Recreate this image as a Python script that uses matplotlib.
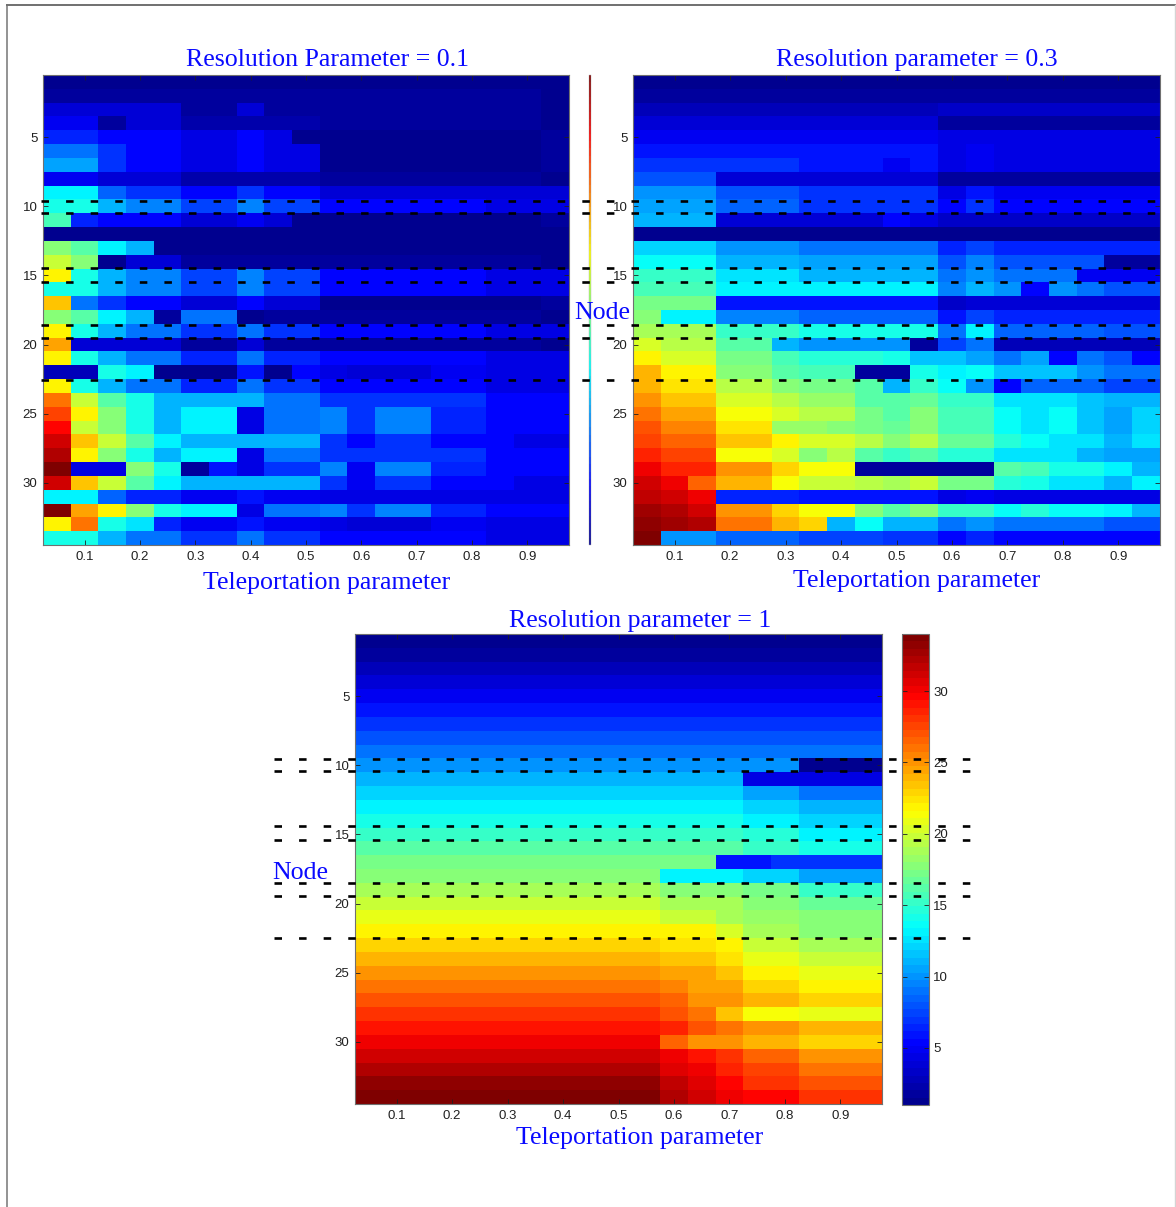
import numpy as np
import matplotlib
matplotlib.use("Agg")
import matplotlib.pyplot as plt
from matplotlib.colors import LinearSegmentedColormap
from matplotlib.lines import Line2D

W, H = 1176, 1207
plt.rcParams['lines.scale_dashes'] = False
plt.rcParams['font.family'] = 'Liberation Sans'

x_ticks = [0.1, 0.2, 0.3, 0.4, 0.5, 0.6, 0.7, 0.8, 0.9]
y_ticks = [5, 10, 15, 20, 25, 30]
cbar_ticks = [5, 10, 15, 20, 25, 30]
titles = ["Resolution Parameter = 0.1", "Resolution parameter = 0.3", "Resolution parameter = 1"]
xlabel = "Teleportation parameter"
ylabel = "Node"

res_01 = [
 [1,1,1,1,1,1,1,1,1,1,1,1,1,1,1,1,1,1,1],
 [2,2,2,2,2,2,2,2,2,2,2,2,2,2,2,2,2,2,1],
 [4,4,4,4,4,2,2,4,2,2,2,2,2,2,2,2,2,2,1],
 [5,5,2,4,4,2.5,2.5,2.5,2.5,2.5,2,2,2,2,2,2,2,2,1],
 [6.5,6.5,5.5,5.5,5.5,4.5,4.5,5.5,4.5,1.5,1,1,1,1,1,1,1,1,2],
 [9,9,7,5.5,5.5,4.5,4.5,5.5,4.5,4.5,1,1,1,1,1,1,1,1,2],
 [10.5,10.5,7,5.5,5.5,4.5,4.5,5.5,4.5,4.5,1,1,1,1,1,1,1,1,2],
 [5,5,4,4,4,2.5,2.5,2.5,2.5,2.5,2,2,2,2,2,2,2,2,1],
 [13,13,8.5,7,7,5.5,5.5,7,5.5,5.5,4,4,4,4,4,4,4,4,4],
 [14,14,11,9.5,9.5,7.5,7.5,9.5,7.5,7.5,5.5,5.5,5.5,5.5,5.5,5.5,4.5,4.5,4.5],
 [15.5,6.5,5.5,5.5,5.5,4,4,5,4,1.5,1.5,1.5,1.5,1.5,1.5,1.5,1.5,1.5,2],
 [1,1,1,1,1,1,1,1,1,1,1,1,1,1,1,1,1,1,1],
 [18,16,13,11,1,1,1,1,1,1,1,1,1,1,1,1,1,1,1],
 [20,18,1.5,4,4,2,2,2,2,2,2,2,2,2,2,2,2,2,1],
 [22,14,11,9.5,9.5,7.5,7.5,9.5,7.5,7.5,5.5,5.5,5.5,5.5,5.5,5.5,4.5,4.5,4.5],
 [14,14,11,9.5,9.5,7.5,7.5,9.5,7.5,7.5,5.5,5.5,5.5,5.5,5.5,5.5,4.5,4.5,4.5],
 [23.5,9,7,5.5,5.5,4,4,5.5,4,4,1.5,1.5,1.5,1.5,1.5,1.5,1.5,1.5,2],
 [18,16,13,11,2,9,9,1,2,2,2,2,2,2,2,2,2,2,1],
 [22,14,11,9,9,7,7,9,7,7,5.5,5.5,5.5,5.5,5.5,5.5,4.5,4.5,4.5],
 [24.5,4,4,4,4,2,2,4,2,2,2,2,2,2,2,2,2,2,1],
 [22,14,11,9,9,6.5,6.5,9,6.5,6.5,5.5,5.5,5.5,5.5,5.5,5.5,4.5,4.5,4.5],
 [3,3,14,13,1,1,1,6,1,5.5,4.5,4,4,4,5,5,4.5,4.5,4.5],
 [22,14,11,9,9,6.5,6.5,9,7,7,5.5,5.5,5.5,5.5,5.5,5.5,4.5,4.5,4.5],
 [26,20,16,14,11,11,11,11,9,9,7,7,7,7,7,7,5.5,5.5,5.5],
 [27.5,22,18,14,11,13,13,4.5,9,9,9.5,7,9.5,9.5,6.5,6.5,5.5,5.5,5.5],
 [29.5,20,18,14,11,13,13,4.5,9,9,9.5,7,9.5,9.5,6.5,6.5,5.5,5.5,5.5],
 [31,23.5,20,16,13,11,11,11,11,11,7,5.5,7,7,5.5,5.5,5.5,4.5,4.5],
 [32,22,18,14,11,13,13,4.5,9,9,7,7,7,7,7,7,5.5,5.5,5.5],
 [34,4.5,4.5,18,14,2,6,4.5,7,7,9.5,5,9.5,9.5,6.5,6.5,5.5,5.5,5.5],
 [31,23.5,20,16,13,11,11,11,11,11,7,5,7,7,5.5,5.5,5.5,4.5,4.5],
 [13,13,8.5,6.5,6.5,5,5,6,5,5,4.5,4.5,4.5,4.5,4.5,4.5,4.5,4.5,4.5],
 [34,24.5,22,18,14,13,13,4.5,9,9,9.5,7,9.5,9.5,6.5,6.5,5.5,5.5,5.5],
 [22,26,14,12.5,6.5,5,5,6,5,5,4.5,4,4,4,5,5,4.5,4.5,4.5],
 [14,14,11,9,9,7,7,9,7,7,5.5,5.5,5.5,5.5,5.5,5.5,4.5,4.5,4.5],
]

res_03 = [
 [1,1,1,1,1,1,1,1,1,1,1,1,1,1,1,1,1,1,1],
 [2,2,2,2,2,2,2,2,2,2,2,2,2,2,2,2,2,2,2],
 [3,3,3,3,3,3,3,3,3,3,3,3.5,3.5,3.5,3.5,3.5,3.5,3.5,3.5],
 [4,4,4,4,4,4,4,4,4,4,4,2,2,2,2,2,2,2,2],
 [5,5,5,5,5,5,5,5,5,5,5,4.5,4.5,4.5,4.5,4.5,4.5,4.5,4.5],
 [5.8,5.8,5.8,5.8,5.8,5.8,5.8,5.8,5.8,5.8,5.8,4.5,5,4.5,4.5,4.5,4.5,4.5,4.5],
 [7,7,7,7,7,7,6,6,6,5,6,4.5,5,4.5,4.5,4.5,4.5,4.5,4.5],
 [8,8,8,4,4,4,4,4,4,4,4,2,2,2,2,2,2,2,2],
 [10,10,10,8,8,8,7,7,7,7,7,4.5,6,5,5,5,5,5,5],
 [10.5,10.5,10.5,8.5,8.5,8.5,7,7,7,7,7,5.5,7,5.5,5.5,5.5,5.5,5.5,5.5],
 [11,11,11,4,4,4,4,4,4,5.5,4.5,3.5,3.5,3.5,3.5,3.5,3.5,3.5,3.5],
 [1,1,1,1,1,1,1,1,1,1,1,1,1,1,1,1,1,1,1],
 [12,12,12,10,10,10,9,9,9,9,9,6.5,7.5,6.5,6.5,6.5,6.5,6.5,6.5],
 [13.5,13.5,13.5,11,11,11,10.5,10.5,10.5,10.5,10.5,8,9.5,8,8,8,8,2,2],
 [15,15,15,12.5,12.5,12.5,11,11,11,11,11,9,10,9,9,9,5,5,5],
 [15.5,15.5,15.5,13,13,13,13,13,13,13,13,9.5,11,10,5.5,10,9,8,8],
 [17,17,17,6,6,6,6,6,6,6,6,3.5,4,4,4,4,4,4,4],
 [18,13,13,9.5,9.5,9.5,8.5,8.5,8.5,8.5,8.5,6,7.5,6.5,6.5,6.5,6.5,6.5,6.5],
 [19,19,19,15,15,15,14,14,14,14,14,9,13,8.5,8.5,8.5,8.5,8,8],
 [20.5,19.5,19.5,16,16,11,10,10,10,10,2,7.5,9,3,3,3,3,3,3],
 [22,20.5,20.5,17,17,15.5,14.5,14.5,14.5,14,11.5,11.5,10.5,9,10.5,5.5,9,8,5.5],
 [24,22,22,18,18,16,15.5,15.5,2,2,14,13,13.8,11.5,11.5,11.5,10,9,9],
 [24,22.5,22.5,19.5,19.5,18,17,17,16,11,15,13.5,10,5.5,8.5,8.5,8.5,7.5,7.5],
 [25,23.5,23.5,20.5,20.5,19.5,18.5,18.5,16,16,16.5,15,15,12.5,12.5,12.5,11.5,11,11],
 [26,24.5,24.5,21.5,21.5,20.5,19.5,19.5,17,16,18,15.5,15.5,13.5,12.5,13.8,11.5,10.5,12],
 [27,25.5,25.5,22.5,22.5,18.5,18.5,18,17,16.5,18,15.5,15.5,13.5,12.5,13.8,11.5,10.5,12],
 [27.5,26.5,26.5,23.5,23.5,22,20.5,20.5,19.5,18,19.5,16.5,16.5,14.5,13.5,12.5,12.5,11,12.5],
 [28.5,27.5,27.5,21.5,21.5,20.5,18,19.5,16,15,16,14.5,14.5,12.5,12.5,12.5,11,10.5,10.5],
 [30,28.5,28.5,25,25,23,21.5,21.5,2,2,2,2,2,16,15.5,14,14,13,11],
 [31,30,26.5,24,24,21.5,20,20,19.5,19,20,17,17,14.5,14,12.5,12.5,11,13],
 [31.5,31,30,6.5,6.5,6.5,6,6,6,6,6,4.5,5,4.5,4.5,4.5,4.5,4.5,4.5],
 [32.5,32,31,25,25,23,21.5,21.5,18,16,18,15,15,13.5,14.5,13.8,13.8,13,11],
 [33,32.5,32,26,26,24,23,11,13.5,11,11,9,10,9,9,9,9,8,8],
 [34,10,10,8.5,8.5,8.5,7.5,7.5,7.5,7,7,5.5,6.5,5.5,5.5,5.5,5.5,5.5,5.5],
]

res_1 = [
 [1,1,1,1,1,1,1,1,1,1,1,1,1,1,1,1,1,1,1],
 [2,2,2,2,2,2,2,2,2,2,2,2,2,2,2,2,2,2,2],
 [3,3,3,3,3,3,3,3,3,3,3,3,3,3,3,3,3,3,3],
 [4,4,4,4,4,4,4,4,4,4,4,4,4,4,4,4,4,4,4],
 [5,5,5,5,5,5,5,5,5,5,5,5,5,5,5,5,5,5,5],
 [6,6,6,6,6,6,6,6,6,6,6,6,6,6,6,6,6,6,6],
 [7,7,7,7,7,7,7,7,7,7,7,7,7,7,7,7,7,7,7],
 [8,8,8,8,8,8,8,8,8,8,8,8,8,8,8,8,8,8,8],
 [9,9,9,9,9,9,9,9,9,9,9,9,9,9,9,9,9,9,9],
 [10,10,10,10,10,10,10,10,10,10,10,10,10,10,10,10,1.5,1.5,1.5],
 [11,11,11,11,11,11,11,11,11,11,11,11,11,11,4.5,4.5,4.5,4.5,4.5],
 [12,12,12,12,12,12,12,12,12,12,12,12,12,12,10.5,10.5,9,9,9],
 [13,13,13,13,13,13,13,13,13,13,13,13,13,13,12,12,11,11,11],
 [14,14,14,14,14,14,14,14,14,14,14,14,14,14,13,13,12,12,12],
 [15,15,15,15,15,15,15,15,15,15,15,15,15,15,14.5,14.5,13,13,13],
 [16,16,16,16,16,16,16,16,16,16,16,16,16,16,15,15,14,14,14],
 [17,17,17,17,17,17,17,17,17,17,17,17,17,6,6,7,7,7,7],
 [18,18,18,18,18,18,18,18,18,18,18,13,13,13,12,12,10.5,10.5,10.5],
 [19,19,19,19,19,19,19,19,19,19,19,18,18,18,17,17,15,15,15],
 [20,20,20,20,20,20,20,20,20,20,20,19,19,19,18,18,16.5,16.5,16.5],
 [21,21,21,21,21,21,21,21,21,21,21,20,20,19,18.5,18.5,17.5,17.5,17.5],
 [22,22,22,22,22,22,22,22,22,22,22,22,22,20.5,19,19,18,18,18],
 [23,23,23,23,23,23,23,23,23,23,23,22.5,22.5,22,20,20,19,19,19],
 [24,24,24,24,24,24,24,24,24,24,24,23.5,23.5,22.5,21,21,20,20,20],
 [25,25,25,25,25,25,25,25,25,25,25,24.5,24.5,23.5,22,22,21,21,21],
 [26,26,26,26,26,26,26,26,26,26,26,25.5,24.5,24.5,23,23,22,22,22],
 [27,27,27,27,27,27,27,27,27,27,27,26.5,25,25,24,24,23,23,23],
 [28,28,28,28,28,28,28,28,28,28,28,27,26,23.5,21.5,21.5,21,21,21],
 [29,29,29,29,29,29,29,29,29,29,29,28.5,27,26,25,25,24,24,24],
 [30,30,30,30,30,30,30,30,30,30,30,26.5,25,25,24,24,23,23,23],
 [31,31,31,31,31,31,31,31,31,31,31,30,29,28,26.5,26.5,25,25,25],
 [32,32,32,32,32,32,32,32,32,32,32,30.5,30,28.5,27.5,27.5,26,26,26],
 [33,33,33,33,33,33,33,33,33,33,33,31.5,30.5,29.5,28,28,27,27,27],
 [34,34,34,34,34,34,34,34,34,34,34,32,31,30,29.5,29.5,28,28,28],
]

fig = plt.figure(figsize=(W / 100, H / 100), dpi=100, facecolor='white')
cmap = LinearSegmentedColormap('matlab_jet', {
    'red': [(0, 0, 0), (0.375, 0, 0), (0.625, 1, 1), (0.875, 1, 1), (1, 0.5, 0.5)],
    'green': [(0, 0, 0), (0.125, 0, 0), (0.375, 1, 1), (0.625, 1, 1), (0.875, 0, 0), (1, 0, 0)],
    'blue': [(0, 0.5625, 0.5625), (0.125, 1, 1), (0.375, 1, 1), (0.625, 0, 0), (1, 0, 0)],
}, N=64)
GRAY = '#707070'
BLUE = '#0a0aff'


def box(x0, y0, x1, y1):
    return [x0 / W, 1 - y1 / H, (x1 - x0) / W, (y1 - y0) / H]


def label(x, y, s, size=18.6):
    fig.text(x / W, 1 - y / H, s, color=BLUE, fontsize=size, family='Liberation Serif',
             ha='center', va='center', zorder=20)


def panel(x0, y0, x1, y1, data):
    ax = fig.add_axes(box(x0, y0, x1, y1))
    im = ax.imshow(np.array(data, dtype=float), cmap=cmap, vmin=1, vmax=34, aspect='auto',
                   interpolation='nearest', extent=[0.025, 0.975, 34.5, 0.5])
    ax.set_xticks(x_ticks)
    ax.set_xticklabels([str(v) for v in x_ticks])
    ax.set_yticks(y_ticks)
    ax.tick_params(direction='in', top=True, right=True, length=3.6, width=0.6,
                   labelsize=9.5, pad=4, color='#202020', labelcolor='#202020')
    for s in ax.spines.values():
        s.set_color(GRAY)
        s.set_linewidth(0.8)
    return im


panel(43, 75, 569, 545, res_01)
panel(633, 75, 1160, 545, res_03)
im3 = panel(355, 634, 882, 1104, res_1)

thin = fig.add_axes(box(589, 75, 591, 545))
cb0 = fig.colorbar(im3, cax=thin)
cb0.set_ticks([])
cb0.outline.set_linewidth(0.3)
cb0.outline.set_edgecolor('#b0b0b0')

cax = fig.add_axes(box(902, 634, 929, 1105))
cb = fig.colorbar(im3, cax=cax)
cb.set_ticks(cbar_ticks)
cax.tick_params(direction='in', left=True, right=True, length=3.6, width=0.6, labelsize=9.5,
                pad=3, color='#202020', labelcolor='#202020')
cb.outline.set_edgecolor(GRAY)
cb.outline.set_linewidth(0.8)

label(327, 60, titles[0])
label(917, 60, titles[1])
label(640, 621, titles[2])
label(327, 583, xlabel)
label(917, 581, xlabel)
label(640, 1138, xlabel)
label(602, 313, ylabel)
label(300, 873, ylabel)

top_dash_y = [201, 213, 268, 282, 325, 338, 380]
bottom_dash_y = [759, 771, 826, 840, 883, 896, 938]
for yy in top_dash_y:
    fig.add_artist(Line2D([41 / W, 1161 / W], [1 - yy / H] * 2, transform=fig.transFigure, color='black',
                          lw=1.9, ls=(0, (5.4, 12.3)), dash_capstyle='butt', zorder=10))
for yy in bottom_dash_y:
    fig.add_artist(Line2D([274 / W, 973 / W], [1 - yy / H] * 2, transform=fig.transFigure, color='black',
                          lw=1.9, ls=(0, (5.4, 12.3)), dash_capstyle='butt', zorder=10))

for xs, ys, col, w in [([7, 7], [1207, 5], '#808080', 1.2), ([7, 1175], [4.5, 4.5], '#707070', 1.4),
                       ([1175, 1175], [5, 1207], '#d4d4d4', 1.0)]:
    fig.add_artist(Line2D([v / W for v in xs], [1 - v / H for v in ys], transform=fig.transFigure,
                          color=col, lw=w))

fig.savefig('out.png', dpi=100, facecolor='white')
